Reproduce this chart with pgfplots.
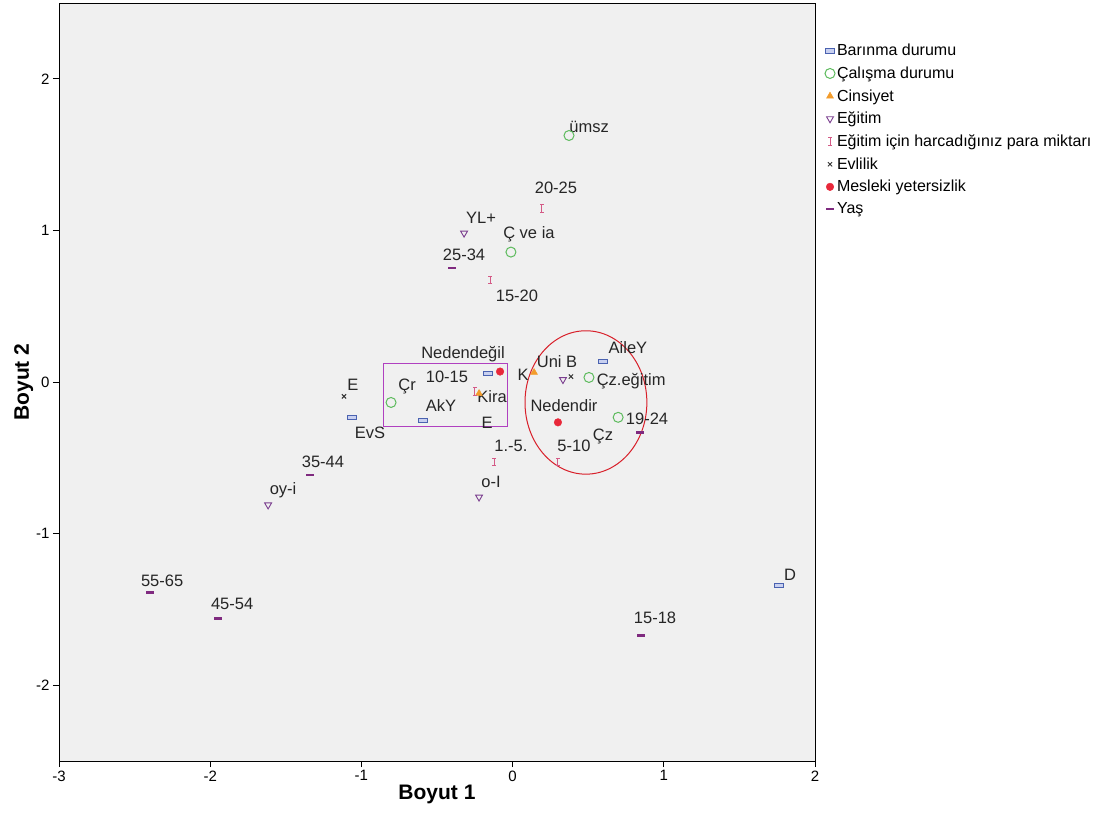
\documentclass[border=0pt]{standalone}
\usepackage{pgfplots}
\pgfplotsset{compat=1.18}
\usepackage{fontspec}
\setmainfont{Liberation Sans}

\definecolor{bgcol}{HTML}{F0F0F0}
\definecolor{barcol}{HTML}{4A62B0}
\definecolor{barfill}{HTML}{C8D0F0}
\definecolor{calcol}{HTML}{5DBB5D}
\definecolor{cincol}{HTML}{F39C2B}
\definecolor{egicol}{HTML}{7B3F8F}
\definecolor{paracol}{HTML}{D45A86}
\definecolor{evcol}{HTML}{333333}
\definecolor{mescol}{HTML}{E8283A}
\definecolor{yascol}{HTML}{7F2A7F}
\definecolor{boxcol}{HTML}{B040C0}
\definecolor{ellcol}{HTML}{D8202A}

\pgfdeclareplotmark{ibeam}{%
  \pgfpathmoveto{\pgfqpoint{0pt}{-\pgfplotmarksize}}%
  \pgfpathlineto{\pgfqpoint{0pt}{\pgfplotmarksize}}%
  \pgfpathmoveto{\pgfqpoint{-0.5\pgfplotmarksize}{\pgfplotmarksize}}%
  \pgfpathlineto{\pgfqpoint{0.5\pgfplotmarksize}{\pgfplotmarksize}}%
  \pgfpathmoveto{\pgfqpoint{-0.5\pgfplotmarksize}{-\pgfplotmarksize}}%
  \pgfpathlineto{\pgfqpoint{0.5\pgfplotmarksize}{-\pgfplotmarksize}}%
  \pgfusepathqstroke
}
\pgfdeclareplotmark{hrect}{%
  \pgfpathrectangle{\pgfqpoint{-1.6\pgfplotmarksize}{-0.8\pgfplotmarksize}}{\pgfqpoint{3.2\pgfplotmarksize}{1.6\pgfplotmarksize}}%
  \pgfusepathqfillstroke
}
\pgfdeclareplotmark{hbar}{%
  \pgfpathrectangle{\pgfqpoint{-1.6\pgfplotmarksize}{-0.5\pgfplotmarksize}}{\pgfqpoint{3.2\pgfplotmarksize}{1.0\pgfplotmarksize}}%
  \pgfusepathqfill
}

\newcommand{\lbl}{\fontsize{16.5}{18}\selectfont}

\begin{document}
\begin{tikzpicture}
\useasboundingbox (-59pt,-53pt) rectangle (1051pt,761pt);
\begin{axis}[
  at={(0,0)}, anchor=south west,
  width=756pt, height=758pt, scale only axis,
  xmin=-3, xmax=2, ymin=-2.5, ymax=2.5,
  xtick={-3,-2,-1,0,1,2}, ytick={-2,-1,0,1,2},
  tick pos=left, tick align=outside,
  major tick length=6pt,
  every tick/.style={black, line width=0.8pt},
  axis line style={black, line width=0.8pt},
  axis background/.style={fill=bgcol},
  ticklabel style={font=\fontsize{15}{17}\selectfont},
  /pgf/number format/assume math mode=true,
  xlabel={\textbf{Boyut 1}}, ylabel={\textbf{Boyut 2}},
  label style={font=\fontsize{21}{24}\selectfont},
  xlabel style={yshift=3pt},
  ylabel style={yshift=-4pt},
  clip=false,
  legend cell align=left,
  legend style={draw=none, fill=none, at={(1.009,0.951)}, anchor=north west,
    font=\fontsize{16}{18}\selectfont, row sep=5.5pt,
    /tikz/every even column/.append style={column sep=2pt}},
]
% Barinma durumu
\addplot[only marks, mark=hrect, mark size=2.8pt, draw=barcol, fill=barfill, line width=0.8pt] coordinates {
  (-1.062,-0.233) (-0.593,-0.253) (-0.163,0.056) (0.598,0.135) (1.762,-1.343)};
\addlegendentry{Barınma durumu}
% Calisma durumu
\addplot[only marks, mark=o, mark size=5pt, draw=calcol, line width=1pt] coordinates {
  (0.373,1.626) (-0.011,0.857) (-0.804,-0.135) (0.505,0.030) (0.698,-0.233)};
\addlegendentry{Çalışma durumu}
% Cinsiyet
\addplot[only marks, mark=triangle*, mark size=4pt, draw=cincol, fill=cincol] coordinates {
  (0.142,0.063) (-0.222,-0.076)};
\addlegendentry{Cinsiyet}
% Egitim
\addplot[only marks, mark=triangle, mark size=4pt, draw=egicol, line width=0.9pt, mark options={rotate=180}] coordinates {
  (-0.321,0.982) (0.333,0.016) (-0.222,-0.759) (-1.617,-0.811)};
\addlegendentry{Eğitim}
% Egitim icin harcadiginiz para miktari
\addplot[only marks, mark=ibeam, mark size=3.8pt, draw=paracol, line width=1pt] coordinates {
  (0.194,1.146) (-0.149,0.673) (-0.249,-0.062) (-0.123,-0.529) (0.300,-0.529)};
\addlegendentry{Eğitim için harcadığınız para miktarı}
% Evlilik
\addplot[only marks, mark=x, mark size=3pt, draw=evcol, line width=1pt] coordinates {
  (-1.115,-0.095) (0.386,0.036)};
\addlegendentry{Evlilik}
% Mesleki yetersizlik
\addplot[only marks, mark=*, mark size=3.8pt, draw=mescol, fill=mescol] coordinates {
  (-0.083,0.069) (0.300,-0.266)};
\addlegendentry{Mesleki yetersizlik}
% Yas
\addplot[only marks, mark=hbar, mark size=2.6pt, fill=yascol, draw=none] coordinates {
  (-0.401,0.752) (-1.339,-0.614) (-1.948,-1.560) (-2.398,-1.389) (0.850,-1.672) (0.843,-0.332)};
\addlegendentry{Yaş}

% annotations
\draw[boxcol, line width=1pt] (axis cs:-0.851,0.122) rectangle (axis cs:-0.037,-0.292);
\draw[ellcol, line width=1pt] (axis cs:0.485,-0.135) ellipse [x radius=0.403, y radius=0.473];

% point labels
\begin{scope}[every node/.style={font=\lbl, inner sep=0pt, text=black!85}]
\node at (axis cs:0.506,1.681) {ümsz};
\node at (axis cs:0.287,1.281) {20-25};
\node at (axis cs:-0.209,1.084) {YL+};
\node at (axis cs:0.108,0.972) {Ç ve ia};
\node at (axis cs:-0.321,0.840) {25-34};
\node at (axis cs:0.029,0.568) {15-20};
\node at (axis cs:-0.328,0.181) {Nedendeğil};
\node at (axis cs:-0.434,0.036) {10-15};
\node at (axis cs:-0.698,-0.030) {Çr};
\node at (axis cs:-0.474,-0.154) {AkY};
\node at (axis cs:-0.136,-0.095) {Kira};
\node at (axis cs:-0.169,-0.266) {E};
\node at (axis cs:-1.056,-0.016) {E};
\node at (axis cs:-0.943,-0.338) {EvS};
\node at (axis cs:-0.011,-0.424) {1.-5.};
\node at (axis cs:-0.143,-0.660) {o-I};
\node at (axis cs:0.069,0.049) {K};
\node at (axis cs:0.294,0.135) {Uni B};
\node at (axis cs:0.763,0.227) {AileY};
\node at (axis cs:0.784,0.003) {Çz.eğitim};
\node at (axis cs:0.340,-0.154) {Nedendir};
\node at (axis cs:0.889,-0.246) {19-24};
\node at (axis cs:0.406,-0.424) {5-10};
\node at (axis cs:0.598,-0.358) {Çz};
\node at (axis cs:-1.254,-0.529) {35-44};
\node at (axis cs:-1.518,-0.713) {oy-i};
\node at (axis cs:-2.318,-1.310) {55-65};
\node at (axis cs:-1.855,-1.461) {45-54};
\node at (axis cs:1.835,-1.271) {D};
\node at (axis cs:0.942,-1.553) {15-18};
\end{scope}
\end{axis}
\end{tikzpicture}
\end{document}
